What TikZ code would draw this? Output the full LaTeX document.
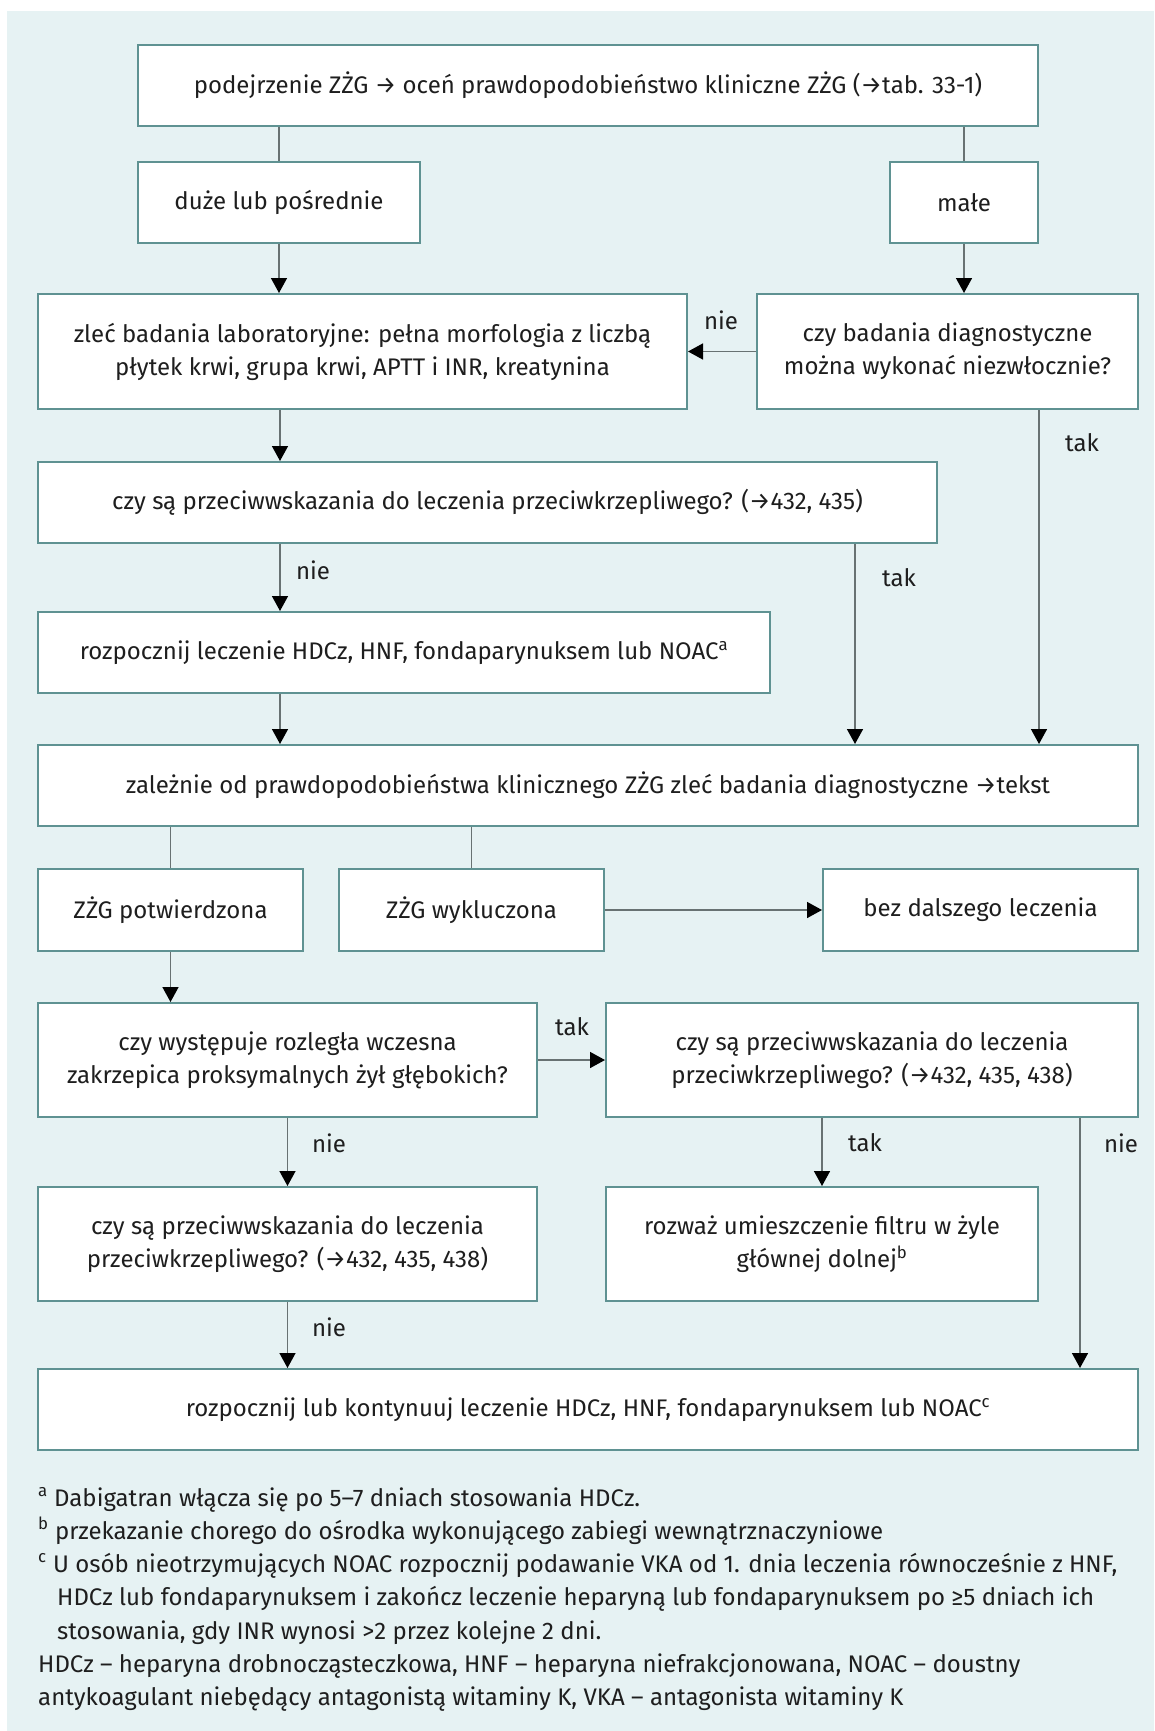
\documentclass[tikz,border=0pt]{standalone}
\usepackage{fontspec}
\setmainfont{Fira Sans}
\usetikzlibrary{arrows.meta}
\definecolor{bgc}{HTML}{E6F2F3}
\definecolor{boxc}{HTML}{5F9292}
\definecolor{linec}{HTML}{687272}
\definecolor{txtc}{HTML}{1E1E1E}
\tikzset{
  box/.style={draw=boxc, line width=2pt, fill=white, inner sep=0pt, align=center, text=txtc,
    font=\fontsize{24}{33}\selectfont},
  gline/.style={draw=linec, line width=1.5pt},
  aline/.style={draw=linec, line width=1.5pt, -{Triangle[length=15pt,width=16pt,color=black]}},
  lab/.style={text=txtc, font=\fontsize{24}{33}\selectfont, inner sep=0pt},
  foot/.style={text=txtc, font=\fontsize{24}{33}\selectfont, inner sep=0pt, anchor=base west},
}
\begin{document}
\begin{tikzpicture}[x=1pt,y=-1pt]
\useasboundingbox (0,0) rectangle (1154,1731);
\fill[bgc] (7,11) rectangle (1154,1731);

\node[box, minimum width=900pt, minimum height=81pt] (top) at (588,85.5)
  {podejrzenie ZŻG → oceń prawdopodobieństwo kliniczne ZŻG (→tab. 33-1)};
\node[box, minimum width=282pt, minimum height=81pt] (duze) at (279,202.5) {duże lub pośrednie};
\node[box, minimum width=148pt, minimum height=81pt] (male) at (964,202.5) {małe};
\node[box, minimum width=649pt, minimum height=115pt] (labb) at (362.5,351.5)
  {zleć badania laboratoryjne: pełna morfologia z liczbą\\płytek krwi, grupa krwi, APTT i INR, kreatynina};
\node[box, minimum width=381pt, minimum height=115pt] (diag) at (947.5,351.5)
  {czy badania diagnostyczne\\można wykonać niezwłocznie?};
\node[box, minimum width=899pt, minimum height=81pt] (czysa1) at (487.5,502.5)
  {czy są przeciwwskazania do leczenia przeciwkrzepliwego? (→432, 435)};
\node[box, minimum width=732pt, minimum height=81pt] (rozp1) at (404,652.5)
  {rozpocznij leczenie HDCz, HNF, fondaparynuksem lub NOAC\textsuperscript{a}};
\node[box, minimum width=1100pt, minimum height=81pt] (zalez) at (588,785.5)
  {zależnie od prawdopodobieństwa klinicznego ZŻG zleć badania diagnostyczne →tekst};
\node[box, minimum width=265pt, minimum height=82pt] (potw) at (170.5,910) {ZŻG potwierdzona};
\node[box, minimum width=265pt, minimum height=82pt] (wykl) at (471.5,910) {ZŻG wykluczona};
\node[box, minimum width=315pt, minimum height=82pt] (bez) at (980.5,910) {bez dalszego leczenia};
\node[box, minimum width=499pt, minimum height=114pt] (wyst) at (287.5,1060)
  {czy występuje rozległa wczesna\\zakrzepica proksymalnych żył głębokich?};
\node[box, minimum width=532pt, minimum height=114pt] (czysa2) at (872,1060)
  {czy są przeciwwskazania do leczenia\\przeciwkrzepliwego? (→432, 435, 438)};
\node[box, minimum width=499pt, minimum height=114pt] (czysa3) at (287.5,1244)
  {czy są przeciwwskazania do leczenia\\przeciwkrzepliwego? (→432, 435, 438)};
\node[box, minimum width=432pt, minimum height=114pt] (rozw) at (822,1244)
  {rozważ umieszczenie filtru w żyle\\głównej dolnej\textsuperscript{b}};
\node[box, minimum width=1100pt, minimum height=81pt] (final) at (588,1409.5)
  {rozpocznij lub kontynuuj leczenie HDCz, HNF, fondaparynuksem lub NOAC\textsuperscript{c}};

\coordinate (c280) at (280,0);
\coordinate (c855) at (855,0);
\coordinate (c1039) at (1039,0);
\coordinate (c1080) at (1080,0);

\draw[gline] (top.south -| duze.north) -- (duze.north);
\draw[gline] (top.south -| male.north) -- (male.north);
\draw[aline] (duze.south) -- (duze.south |- labb.north);
\draw[aline] (male.south) -- (male.south |- diag.north);
\draw[aline] (diag.west) -- (labb.east);
\draw[aline] (diag.south -| c1039) -- (zalez.north -| c1039);
\draw[aline] (labb.south -| c280) -- (czysa1.north -| c280);
\draw[aline] (czysa1.south -| c280) -- (rozp1.north -| c280);
\draw[aline] (czysa1.south -| c855) -- (zalez.north -| c855);
\draw[aline] (rozp1.south -| c280) -- (zalez.north -| c280);
\draw[gline] (zalez.south -| potw.north) -- (potw.north);
\draw[gline] (zalez.south -| wykl.north) -- (wykl.north);
\draw[aline] (wykl.east) -- (bez.west);
\draw[aline] (potw.south) -- (potw.south |- wyst.north);
\draw[aline] (wyst.east) -- (czysa2.west);
\draw[aline] (wyst.south) -- (czysa3.north);
\draw[aline] (czysa2.south -| rozw.north) -- (rozw.north);
\draw[aline] (czysa2.south -| c1080) -- (final.north -| c1080);
\draw[aline] (czysa3.south) -- (czysa3.south |- final.north);

\node[lab] (l1) at (721,320) {nie};
\node[lab] (l2) at (1082,443) {tak};
\node[lab] (l3) at (313,570) {nie};
\node[lab] (l4) at (899,578) {tak};
\node[lab] (l5) at (572,1027) {tak};
\node[lab] (l6) at (329,1143) {nie};
\node[lab] (l7) at (865,1143) {tak};
\node[lab] (l8) at (1121,1143) {nie};
\node[lab] (l9) at (329,1327) {nie};

\node[foot] (f1) at (38,1506) {\textsuperscript{a} Dabigatran włącza się po 5–7 dniach stosowania HDCz.};
\node[foot] (f2) at (38,1539) {\textsuperscript{b} przekazanie chorego do ośrodka wykonującego zabiegi wewnątrznaczyniowe};
\node[foot] (f3) at (38,1572) {\textsuperscript{c} U osób nieotrzymujących NOAC rozpocznij podawanie VKA od 1. dnia leczenia równocześnie z HNF,};
\node[foot] (f4) at (57,1605) {HDCz lub fondaparynuksem i zakończ leczenie heparyną lub fondaparynuksem po ≥5 dniach ich};
\node[foot] (f5) at (57,1639) {stosowania, gdy INR wynosi >2 przez kolejne 2 dni.};
\node[foot] (f6) at (38,1672) {HDCz – heparyna drobnocząsteczkowa, HNF – heparyna niefrakcjonowana, NOAC – doustny};
\node[foot] (f7) at (38,1705) {antykoagulant niebędący antagonistą witaminy K, VKA – antagonista witaminy K};
\end{tikzpicture}
\end{document}
